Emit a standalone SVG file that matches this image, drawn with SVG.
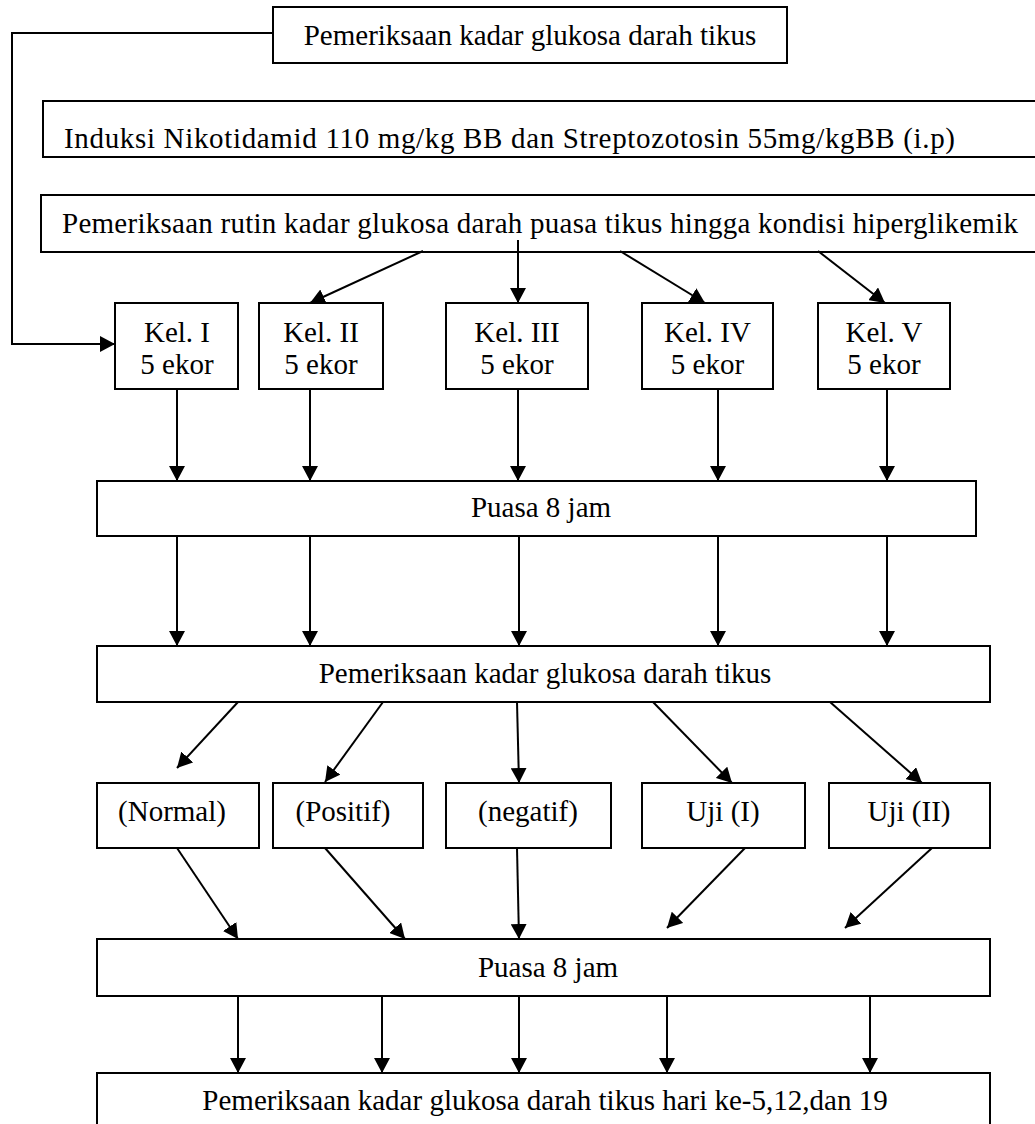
<svg xmlns="http://www.w3.org/2000/svg" width="1035" height="1124" viewBox="0 0 1035 1124">
<style>
.box{fill:#fff;stroke:#000;stroke-width:2}
.t{font-family:"Liberation Serif","Times New Roman",serif;font-size:29px;fill:#000}
.m{text-anchor:middle}
.c{fill:none;stroke:#000;stroke-width:2}
</style>
<defs>
<marker id="ah" markerUnits="userSpaceOnUse" markerWidth="16" markerHeight="16" refX="15" refY="8" orient="auto" viewBox="0 0 16 16">
<path d="M0,0 L15,8 L0,16 z" fill="#000"/>
</marker>
</defs>
<rect width="1035" height="1124" fill="#fff"/>
<g id="n-top"><rect class="box" x="273" y="7" width="514" height="56"/><text class="t m" x="530" y="45">Pemeriksaan kadar glukosa darah tikus</text></g>
<g id="n-induksi"><rect class="box" x="43" y="101" width="1000" height="56"/><text class="t" x="64" y="148" textLength="891" lengthAdjust="spacing">Induksi Nikotidamid 110 mg/kg BB dan Streptozotosin 55mg/kgBB (i.p)</text></g>
<g id="n-rutin"><rect class="box" x="41" y="195" width="1002" height="57"/><text class="t" x="62" y="233" textLength="956" lengthAdjust="spacing">Pemeriksaan rutin kadar glukosa darah puasa tikus hingga kondisi hiperglikemik</text></g>
<g id="n-kel1"><rect class="box" x="115" y="303" width="123" height="86"/><text class="t m" x="177" y="342">Kel. I</text><text class="t m" x="177" y="374">5 ekor</text></g>
<g id="n-kel2"><rect class="box" x="259" y="303" width="124" height="86"/><text class="t m" x="321" y="342">Kel. II</text><text class="t m" x="321" y="374">5 ekor</text></g>
<g id="n-kel3"><rect class="box" x="446" y="303" width="142" height="86"/><text class="t m" x="517" y="342">Kel. III</text><text class="t m" x="517" y="374">5 ekor</text></g>
<g id="n-kel4"><rect class="box" x="642" y="303" width="131" height="86"/><text class="t m" x="707.5" y="342">Kel. IV</text><text class="t m" x="707.5" y="374">5 ekor</text></g>
<g id="n-kel5"><rect class="box" x="818" y="303" width="132" height="86"/><text class="t m" x="884" y="342">Kel. V</text><text class="t m" x="884" y="374">5 ekor</text></g>
<g id="n-puasa1"><rect class="box" x="97" y="481" width="879" height="55"/><text class="t m" x="541" y="517">Puasa 8 jam</text></g>
<g id="n-periksa"><rect class="box" x="97" y="646" width="893" height="56"/><text class="t m" x="545" y="683">Pemeriksaan kadar glukosa darah tikus</text></g>
<g id="n-normal"><rect class="box" x="97" y="783" width="162" height="65"/><text class="t m" x="172" y="821">(Normal)</text></g>
<g id="n-positif"><rect class="box" x="273" y="783" width="150" height="65"/><text class="t m" x="343" y="821">(Positif)</text></g>
<g id="n-negatif"><rect class="box" x="446" y="783" width="165" height="65"/><text class="t m" x="528" y="821">(negatif)</text></g>
<g id="n-uji1"><rect class="box" x="642" y="783" width="163" height="65"/><text class="t m" x="723" y="821">Uji (I)</text></g>
<g id="n-uji2"><rect class="box" x="829" y="783" width="161" height="65"/><text class="t m" x="909" y="821">Uji (II)</text></g>
<g id="n-puasa2"><rect class="box" x="97" y="939" width="893" height="57"/><text class="t m" x="548" y="977">Puasa 8 jam</text></g>
<g id="n-final"><rect class="box" x="97" y="1073" width="893" height="60"/><text class="t m" x="545" y="1110">Pemeriksaan kadar glukosa darah tikus hari ke-5,12,dan 19</text></g>
<g id="connectors" class="c" marker-end="url(#ah)">
<polyline class="c" points="273,33 12,33 12,344 115,344" marker-end="url(#ah)"/>
<line x1="423" y1="251" x2="310" y2="303"/>
<line x1="518" y1="240" x2="518" y2="303"/>
<line x1="620" y1="251" x2="705" y2="303"/>
<line x1="818" y1="251" x2="885" y2="303"/>
<line x1="177" y1="389" x2="177" y2="481"/>
<line x1="310" y1="389" x2="310" y2="481"/>
<line x1="518" y1="389" x2="518" y2="481"/>
<line x1="718" y1="389" x2="718" y2="481"/>
<line x1="887" y1="389" x2="887" y2="481"/>
<line x1="177" y1="536" x2="177" y2="646"/>
<line x1="310" y1="536" x2="310" y2="646"/>
<line x1="519" y1="536" x2="519" y2="646"/>
<line x1="718" y1="536" x2="718" y2="646"/>
<line x1="887" y1="536" x2="887" y2="646"/>
<line x1="238" y1="702" x2="177" y2="768"/>
<line x1="383" y1="702" x2="325" y2="782"/>
<line x1="517" y1="702" x2="519" y2="783"/>
<line x1="653" y1="702" x2="732" y2="783"/>
<line x1="830" y1="702" x2="922" y2="783"/>
<line x1="177" y1="848" x2="238" y2="939"/>
<line x1="325" y1="848" x2="405" y2="939"/>
<line x1="517" y1="848" x2="519" y2="939"/>
<line x1="745" y1="848" x2="667" y2="928"/>
<line x1="932" y1="848" x2="845" y2="928"/>
<line x1="238" y1="996" x2="238" y2="1073"/>
<line x1="382" y1="996" x2="382" y2="1073"/>
<line x1="519" y1="996" x2="519" y2="1073"/>
<line x1="667" y1="996" x2="667" y2="1073"/>
<line x1="870" y1="996" x2="870" y2="1073"/>
</g>
</svg>
